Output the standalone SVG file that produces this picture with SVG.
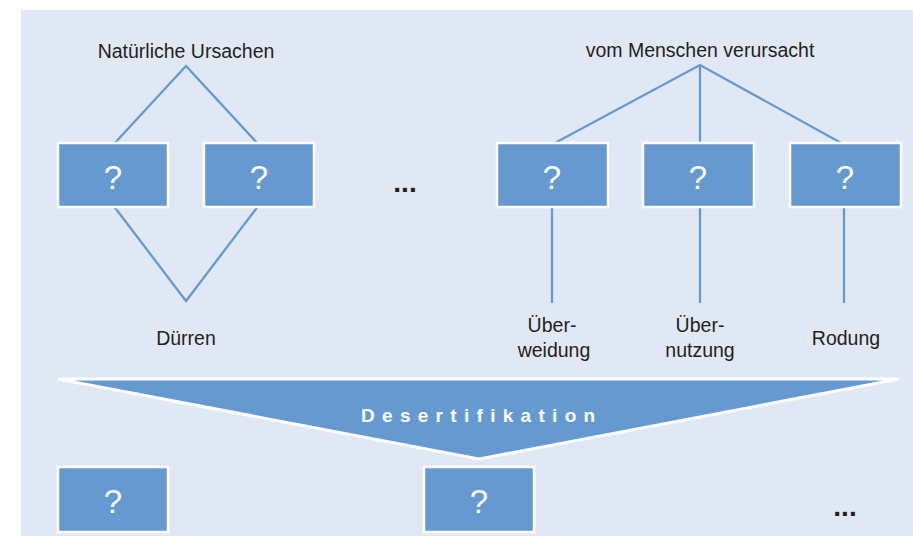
<svg xmlns="http://www.w3.org/2000/svg" width="913" height="536" viewBox="0 0 913 536">
  <style>
    .bg { fill: #E1E8F5; }
    .box { fill: #6699D0; stroke: #FFFFFF; stroke-width: 2.5; }
    .q { font-family: "Liberation Sans", Arial, sans-serif; font-size: 33px; fill: #FFFFFF; text-anchor: middle; }
    .lbl { font-family: "Liberation Sans", Arial, sans-serif; font-size: 19.5px; fill: #231F20; text-anchor: middle; }
    .dots { font-family: "Liberation Sans", Arial, sans-serif; font-size: 28px; font-weight: bold; fill: #231F20; text-anchor: middle; }
    .con { fill: none; stroke: #6699D0; stroke-width: 2.3; stroke-linejoin: miter; }
    .tri { fill: #6699D0; stroke: #FFFFFF; stroke-width: 3; }
    .des { font-family: "Liberation Sans", Arial, sans-serif; font-size: 19px; font-weight: bold; fill: #FFFFFF; letter-spacing: 7.3px; }
  </style>
  <rect class="bg" x="21" y="10" width="892" height="526"/>

  <g id="connectors">
    <polyline class="con" points="113,145 186,66 259,145"/>
    <polyline class="con" points="113,205 186,301 259,205"/>
    <polyline class="con" points="553,144 700,65 843,144"/>
    <line class="con" x1="700" y1="65" x2="700" y2="144"/>
    <line class="con" x1="552" y1="206" x2="552" y2="303"/>
    <line class="con" x1="700" y1="206" x2="700" y2="303"/>
    <line class="con" x1="844" y1="206" x2="844" y2="303"/>
  </g>

  <g id="label-natuerlich"><text class="lbl" x="186" y="58">Natürliche Ursachen</text></g>
  <g id="label-mensch"><text class="lbl" x="700" y="57">vom Menschen verursacht</text></g>

  <g id="box-n1"><rect class="box" x="58" y="143" width="110" height="64"/><text class="q" x="113" y="189">?</text></g>
  <g id="box-n2"><rect class="box" x="204" y="143" width="110" height="64"/><text class="q" x="259" y="189">?</text></g>
  <g id="dots-top"><text class="dots" x="405" y="192">...</text></g>
  <g id="box-m1"><rect class="box" x="497" y="143" width="111" height="64"/><text class="q" x="552" y="189">?</text></g>
  <g id="box-m2"><rect class="box" x="643" y="143" width="111" height="64"/><text class="q" x="698" y="189">?</text></g>
  <g id="box-m3"><rect class="box" x="790" y="143" width="111" height="64"/><text class="q" x="845" y="189">?</text></g>

  <g id="label-duerren"><text class="lbl" x="186" y="345">Dürren</text></g>
  <g id="label-ueberweidung"><text class="lbl" x="552" y="332">Über-</text><text class="lbl" x="554" y="357">weidung</text></g>
  <g id="label-uebernutzung"><text class="lbl" x="700" y="332">Über-</text><text class="lbl" x="700" y="357">nutzung</text></g>
  <g id="label-rodung"><text class="lbl" x="846" y="345">Rodung</text></g>

  <g id="desertifikation">
    <polygon class="tri" points="58,379 899,379 479,459"/>
    <text class="des" x="361" y="422">Desertifikation</text>
  </g>

  <g id="box-b1"><rect class="box" x="58" y="467" width="110" height="65"/><text class="q" x="113" y="513">?</text></g>
  <g id="box-b2"><rect class="box" x="424" y="467" width="110" height="65"/><text class="q" x="479" y="513">?</text></g>
  <g id="dots-bottom"><text class="dots" x="845" y="516">...</text></g>
</svg>
